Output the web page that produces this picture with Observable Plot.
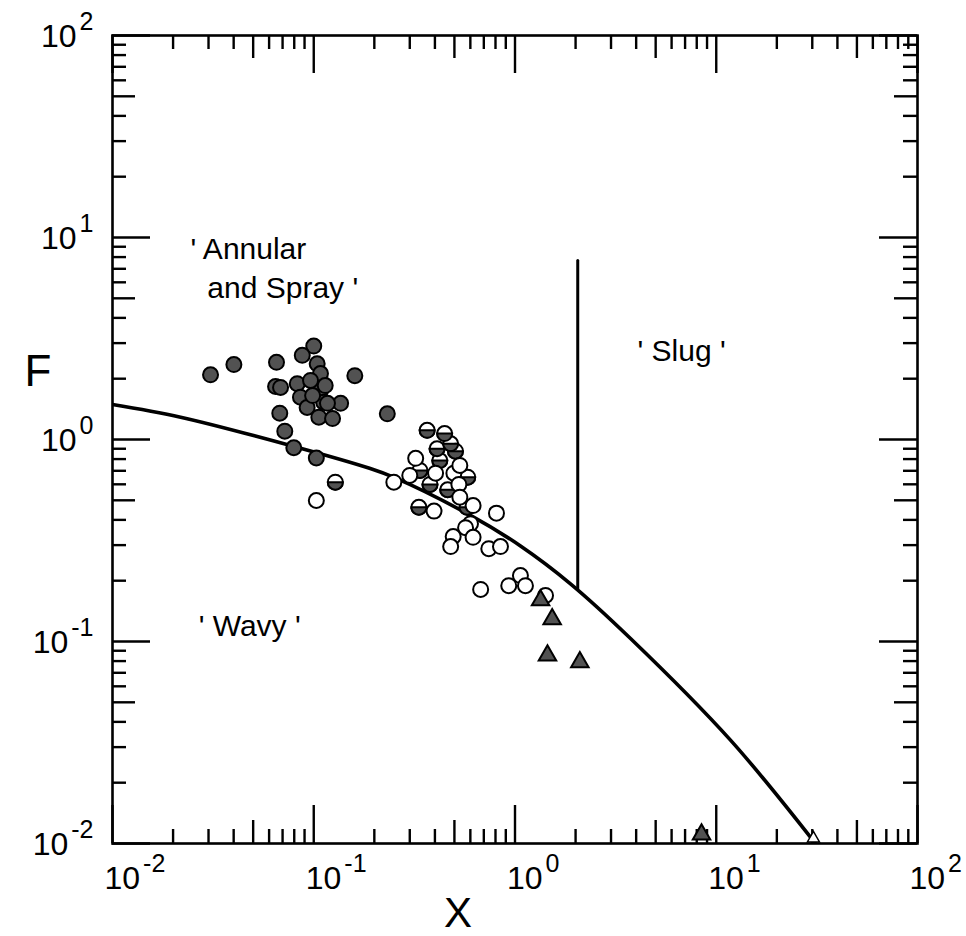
<!DOCTYPE html>
<html>
<head>
<meta charset="utf-8">
<script src="https://cdn.jsdelivr.net/npm/d3@7"></script>
<script src="https://cdn.jsdelivr.net/npm/@observablehq/plot@0.6"></script>
<style>
  html, body { margin: 0; padding: 0; background: #fff; }
  #chart { width: 966px; height: 936px; }
</style>
</head>
<body>
<div id="chart"></div>
<script>
// ---------------- data ----------------
// solid (gray-filled) circles
const filledX = [0.0307, 0.0401, 0.0653, 0.0646, 0.0684, 0.100, 0.0877, 0.104, 0.108, 0.0828, 0.0859, 0.0927, 0.108, 0.112, 0.106, 0.124, 0.136, 0.117, 0.160, 0.232, 0.0678, 0.0718, 0.0796, 0.103, 0.0964, 0.0987, 0.114];
const filledF = [2.09, 2.35, 2.41, 1.83, 1.81, 2.90, 2.61, 2.37, 2.12, 1.89, 1.62, 1.44, 1.75, 1.53, 1.29, 1.27, 1.51, 1.51, 2.07, 1.34, 1.35, 1.10, 0.91, 0.81, 1.96, 1.65, 1.85];
// half-filled circles
const halfX = [0.128, 0.366, 0.447, 0.479, 0.506, 0.410, 0.423, 0.337, 0.378, 0.463, 0.582, 0.333, 0.578];
const halfF = [0.615, 1.11, 1.07, 0.953, 0.875, 0.90, 0.787, 0.703, 0.599, 0.564, 0.651, 0.462, 0.462];
// open circles
const openX = [0.103, 0.250, 0.321, 0.300, 0.403, 0.497, 0.532, 0.526, 0.532, 0.396, 0.619, 0.809, 0.601, 0.568, 0.493, 0.479, 0.619, 0.741, 0.847, 1.064, 0.931, 1.127, 0.675, 1.418];
const openF = [0.499, 0.615, 0.807, 0.664, 0.681, 0.681, 0.744, 0.599, 0.518, 0.442, 0.471, 0.432, 0.383, 0.366, 0.331, 0.295, 0.328, 0.288, 0.295, 0.212, 0.189, 0.189, 0.181, 0.169];
// filled triangles
const triX = [1.34, 1.53, 1.45, 2.10, 8.45];
const triF = [0.160, 0.129, 0.0853, 0.079, 0.0111];
// open triangle
const openTriX = [30.4];
const openTriF = [0.0106];
// transition curve (wavy / annular boundary)
const curveX = [0.01, 0.0218, 0.0766, 0.191, 0.249, 0.601, 1.065, 1.887, 3.75, 11.8, 31.1];
const curveF = [1.49, 1.29, 0.934, 0.718, 0.651, 0.421, 0.297, 0.193, 0.1035, 0.0324, 0.01];
// slug boundary (vertical line)
const slugLineX = [2.05, 2.05];
const slugLineF = [0.183, 7.7];
// region labels
const regionText = ["' Annular", "and Spray '", "' Wavy '", "' Slug '"];
const regionX = [0.0244, 0.0296, 0.0268, 4.06];
const regionF = [7.87, 4.99, 0.107, 2.46];
// axes
const decades = [0.01, 0.1, 1, 10, 100];
const decadeLabels = ["10^-2", "10^-1", "10^0", "10^1", "10^2"];
const minorMult = [2, 3, 4, 6, 7, 8, 9];
const midMult = [5];
const xTitle = "X";
const yTitle = "F";

// ---------------- layout ----------------
const W = 966, H = 936;
const mL = 112, mR = 49, mT = 35, mB = 93;
const innerW = W - mL - mR, innerH = H - mT - mB;

const zip = (xs, ys) => xs.map((x, i) => ({x, y: ys[i]}));
const filled = zip(filledX, filledF);
const half = zip(halfX, halfF);
const open = zip(openX, openF);
const tris = zip(triX, triF);
const openTris = zip(openTriX, openTriF);
const curve = zip(curveX, curveF);
const slugLine = zip(slugLineX, slugLineF);
const regions = regionText.map((t, i) => ({t, x: regionX[i], y: regionF[i]}));
const labels = decades.map((v, i) => ({v, t: decadeLabels[i]}));

const minorTicks = decades.slice(0, -1).flatMap(d => minorMult.map(m => d * m));
const midTicks = decades.slice(0, -1).flatMap(d => midMult.map(m => d * m));

const halfSymbol = {
  draw(context, size) {
    const r = Math.sqrt(size / Math.PI);
    context.moveTo(r, 0);
    context.arc(0, 0, r, 0, Math.PI);
    context.closePath();
  }
};

const tickStyle = {stroke: "#000", strokeWidth: 2.4};
function ticks(values, len) {
  return [
    Plot.tickX(values, {x: d => d, insetTop: innerH - len, ...tickStyle}),
    Plot.tickX(values, {x: d => d, insetBottom: innerH - len, ...tickStyle}),
    Plot.tickY(values, {y: d => d, insetRight: innerW - len, ...tickStyle}),
    Plot.tickY(values, {y: d => d, insetLeft: innerW - len, ...tickStyle})
  ];
}

const GRAY = "#525252";

const chart = Plot.plot({
  width: W,
  height: H,
  marginLeft: mL, marginRight: mR, marginTop: mT, marginBottom: mB,
  style: {fontFamily: "'Liberation Sans', Arial, sans-serif", background: "#fff", overflow: "visible", color: "#000"},
  x: {type: "log", domain: [0.01, 100], axis: null},
  y: {type: "log", domain: [0.01, 100], axis: null},
  marks: [
    ...ticks(minorTicks, 14),
    ...ticks(midTicks, 23),
    ...ticks(decades, 38),
    Plot.frame({stroke: "#000", strokeWidth: 2.6}),
    Plot.line(curve, {x: "x", y: "y", curve: "catmull-rom", stroke: "#000", strokeWidth: 3.6, clip: true}),
    Plot.line(slugLine, {x: "x", y: "y", stroke: "#000", strokeWidth: 3}),
    Plot.dot(filled, {x: "x", y: "y", r: 7.5, fill: GRAY, stroke: "#000", strokeWidth: 2}),
    Plot.dot(half, {x: "x", y: "y", r: 7.5, fill: "#fff", stroke: "#000", strokeWidth: 2}),
    Plot.dot(half, {x: "x", y: "y", r: 7.5, symbol: halfSymbol, fill: GRAY, stroke: "#000", strokeWidth: 2}),
    Plot.dot(open, {x: "x", y: "y", r: 7.5, fill: "#fff", stroke: "#000", strokeWidth: 2}),
    Plot.dot(tris, {x: "x", y: "y", r: 6.5, symbol: "triangle", fill: GRAY, stroke: "#000", strokeWidth: 2}),
    Plot.dot(openTris, {x: "x", y: "y", r: 4.5, symbol: "triangle", fill: "#fff", stroke: "#000", strokeWidth: 1.5}),
    // region labels
    Plot.text(regions, {x: "x", y: "y", text: "t", textAnchor: "start", lineAnchor: "bottom", fontSize: 30, fill: "#000"}),
    // tick labels
    Plot.text(labels, {x: "v", text: "t", frameAnchor: "bottom", dy: 45, dx: -8, textAnchor: "start", lineAnchor: "bottom", fontSize: 32, fill: "#000"}),
    Plot.text(labels, {y: "v", text: "t", frameAnchor: "left", dx: -19, dy: 11, textAnchor: "end", lineAnchor: "bottom", fontSize: 32, fill: "#000"}),
    // axis titles
    Plot.text([xTitle], {text: d => d, frameAnchor: "bottom", dx: -57, dy: 83, lineAnchor: "bottom", fontSize: 42, fill: "#000"}),
    Plot.text([yTitle], {text: d => d, frameAnchor: "left", dx: -88, dy: -54, lineAnchor: "bottom", fontSize: 44, fill: "#000"})
  ]
});

// superscript exponents in the tick labels
const NS = "http://www.w3.org/2000/svg";
chart.querySelectorAll("text").forEach(t => {
  const s = t.textContent;
  if (!s.includes("^")) return;
  const [base, exp] = s.split("^");
  t.textContent = "";
  const a = document.createElementNS(NS, "tspan");
  a.textContent = base;
  const b = document.createElementNS(NS, "tspan");
  b.textContent = exp;
  b.setAttribute("font-size", "25");
  b.setAttribute("dy", "-17");
  b.setAttribute("dx", "3");
  t.append(a, b);
});

document.getElementById("chart").appendChild(chart);
</script>
</body>
</html>
